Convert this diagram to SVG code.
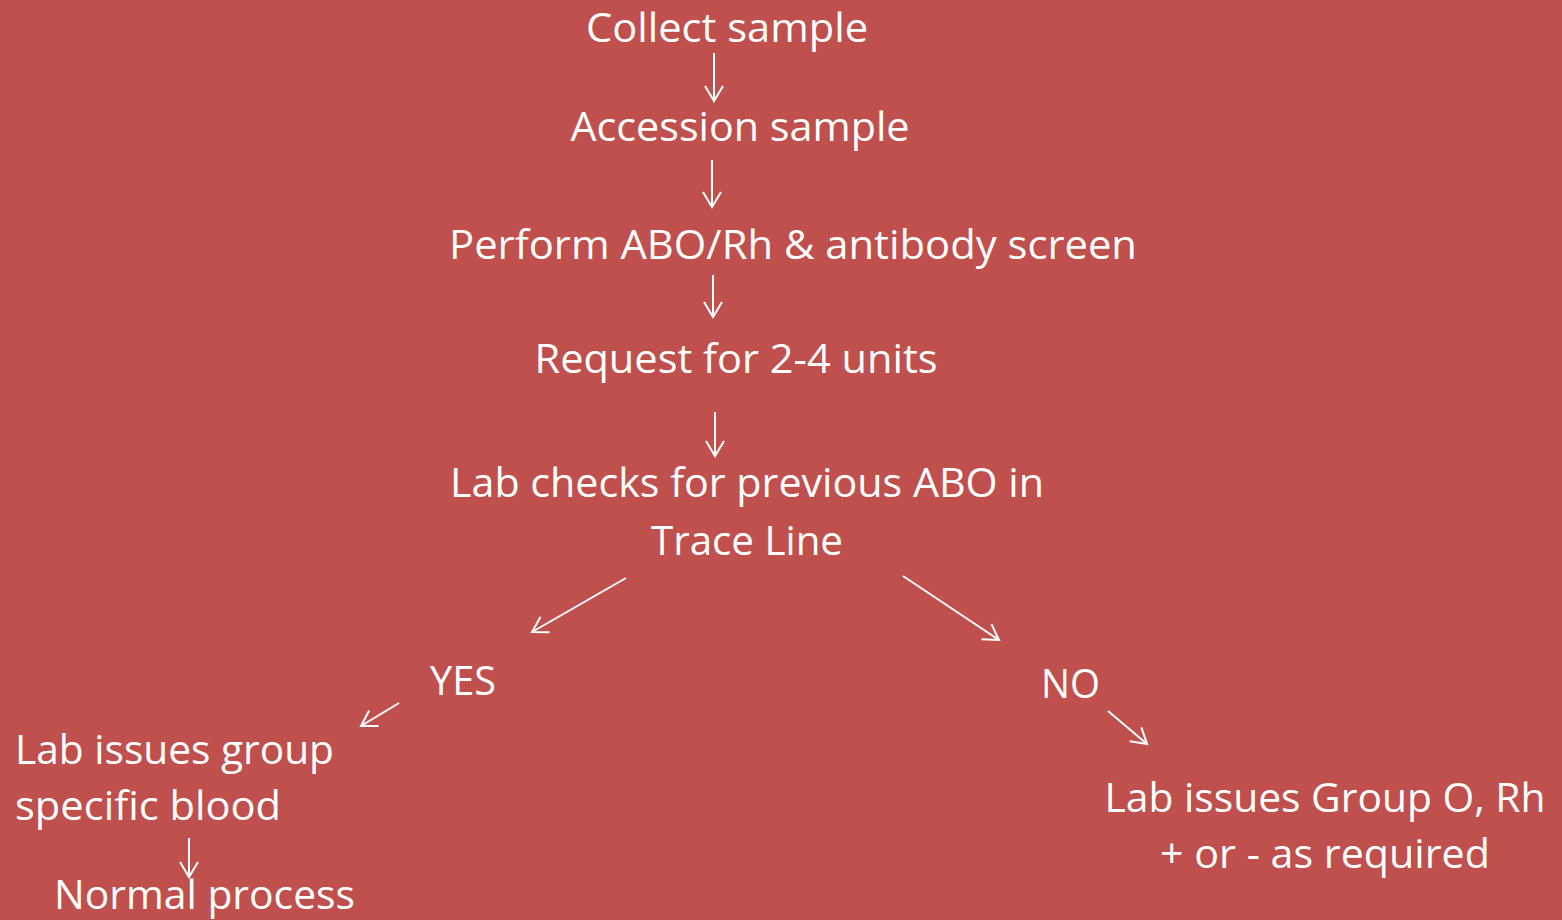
<svg xmlns="http://www.w3.org/2000/svg" width="1562" height="920" viewBox="0 0 1562 920">
<style>
text{font-family:"Open Sans","Noto Sans","Liberation Sans",sans-serif;font-size:40px;fill:#ffffff}
.c{text-anchor:middle}
.l{text-anchor:start}
.con line{stroke:#ffffff;stroke-width:2;fill:none}
</style>
<defs>
<marker id="ah" markerUnits="userSpaceOnUse" markerWidth="24" markerHeight="24" viewBox="-16 -12 20 24" refX="0" refY="0" orient="auto">
<path d="M-15,-9 L0,0 L-15,9" fill="none" stroke="#ffffff" stroke-width="2"/>
</marker>
</defs>
<rect x="0" y="0" width="1562" height="920" fill="#C0504D"/>
<g id="n1"><text class="c" x="727" y="42" textLength="282" lengthAdjust="spacingAndGlyphs">Collect sample</text></g>
<g id="n2"><text class="c" x="740" y="141" textLength="339" lengthAdjust="spacingAndGlyphs">Accession sample</text></g>
<g id="n3"><text class="c" x="793" y="259" textLength="688" lengthAdjust="spacingAndGlyphs">Perform ABO/Rh &amp; antibody screen</text></g>
<g id="n4"><text class="c" x="736" y="373" textLength="403" lengthAdjust="spacingAndGlyphs">Request for 2-4 units</text></g>
<g id="n5"><text class="c" x="747" y="497" textLength="594" lengthAdjust="spacingAndGlyphs">Lab checks for previous ABO in</text><text class="c" x="747" y="555" textLength="192" lengthAdjust="spacingAndGlyphs">Trace Line</text></g>
<g id="n6"><text class="l" x="430" y="695" textLength="66" lengthAdjust="spacingAndGlyphs">YES</text></g>
<g id="n7"><text class="l" x="1041" y="698" textLength="59" lengthAdjust="spacingAndGlyphs">NO</text></g>
<g id="n8"><text class="l" x="15" y="764" textLength="319" lengthAdjust="spacingAndGlyphs">Lab issues group</text><text class="l" x="15" y="820" textLength="266" lengthAdjust="spacingAndGlyphs">specific blood</text></g>
<g id="n9"><text class="l" x="54" y="909" textLength="301" lengthAdjust="spacingAndGlyphs">Normal process</text></g>
<g id="n10"><text class="c" x="1325" y="812" textLength="441" lengthAdjust="spacingAndGlyphs">Lab issues Group O, Rh</text><text class="c" x="1325" y="868" textLength="330" lengthAdjust="spacingAndGlyphs">+ or - as required</text></g>
<g id="connectors" class="con">
<line x1="714" y1="53" x2="714" y2="101" marker-end="url(#ah)"/>
<line x1="712" y1="160" x2="712" y2="207" marker-end="url(#ah)"/>
<line x1="713" y1="275" x2="713" y2="317" marker-end="url(#ah)"/>
<line x1="715" y1="412" x2="715" y2="456" marker-end="url(#ah)"/>
<line x1="626" y1="578" x2="532" y2="632" marker-end="url(#ah)"/>
<line x1="903" y1="576" x2="999" y2="640" marker-end="url(#ah)"/>
<line x1="399" y1="703" x2="361" y2="726" marker-end="url(#ah)"/>
<line x1="1108" y1="711" x2="1147" y2="744" marker-end="url(#ah)"/>
<line x1="189" y1="838" x2="189" y2="877" marker-end="url(#ah)"/>
</g>
</svg>
